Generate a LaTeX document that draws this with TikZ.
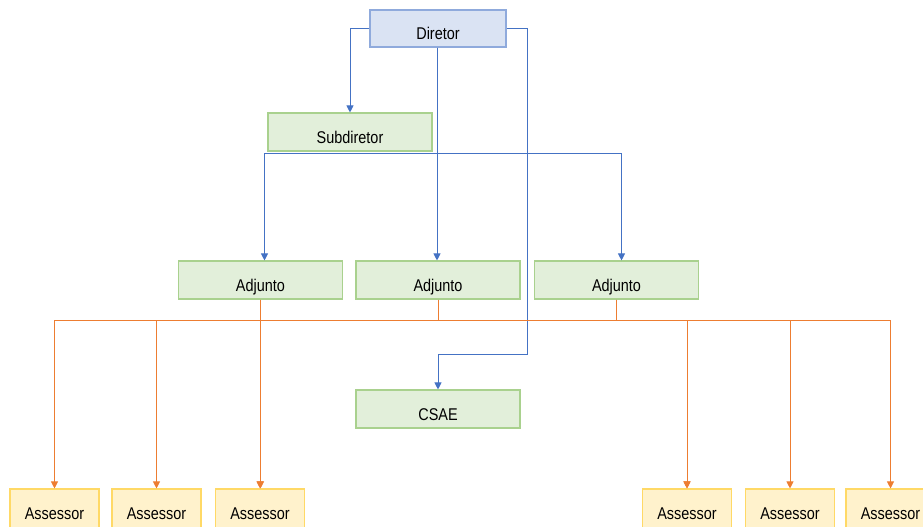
\documentclass[tikz,border=0pt]{standalone}
\usepackage{fontspec}
\setmainfont{Liberation Sans}[FakeStretch=0.85]
\usepackage{tikz}
\usetikzlibrary{shapes,arrows,arrows.meta,positioning}
\definecolor{dirfill}{HTML}{DAE3F3}
\definecolor{dirdraw}{HTML}{8FAADC}
\definecolor{grnfill}{HTML}{E2EFDA}
\definecolor{grndraw}{HTML}{A9D18E}
\definecolor{ylwfill}{HTML}{FFF2CC}
\definecolor{ylwdraw}{HTML}{FFD966}
\definecolor{bluln}{HTML}{4472C4}
\definecolor{orgln}{HTML}{ED7D31}
\tikzstyle{box} = [rectangle, inner sep = 0pt, line width = 1.1pt, text height = 22pt, text depth = 0pt, font = \fontsize{17}{19}\selectfont]
\tikzstyle{dnode} = [box, draw = dirdraw, fill = dirfill, minimum width = 136pt, minimum height = 37pt]
\tikzstyle{gnode} = [box, draw = grndraw, fill = grnfill, minimum width = 164pt, minimum height = 38pt]
\tikzstyle{anode} = [box, draw = ylwdraw, fill = ylwfill, minimum width = 89pt, minimum height = 39pt]
\tikzstyle{bline} = [draw = bluln, line width = 0.9pt, -{Triangle[width = 7pt, length = 7pt]}]
\tikzstyle{oline} = [draw = orgln, line width = 0.9pt, -{Triangle[width = 7pt, length = 7pt]}]

\begin{document}
\begin{tikzpicture}[x = 1pt, y = -1pt]
			\useasboundingbox (0, 0) rectangle (923, 527);
			\clip (0, 0) rectangle (923, 527);
			\node [dnode] (dir) at (438, 28.5) {Diretor};
			\node [gnode] (sub) at (350, 132) {Subdiretor};
			\node [gnode] (adj1) at (260.5, 280) {Adjunto};
			\node [gnode] (adj2) at (438, 280) {Adjunto};
			\node [gnode] (adj3) at (616.5, 280) {Adjunto};
			\node [gnode] (csae) at (438, 409) {CSAE};
			\node [anode] (ass1) at (54.5, 508.5) {Assessor};
			\node [anode] (ass2) at (156.5, 508.5) {Assessor};
			\node [anode] (ass3) at (260, 508.5) {Assessor};
			\node [anode] (ass4) at (687, 508.5) {Assessor};
			\node [anode] (ass5) at (790, 508.5) {Assessor};
			\node [anode] (ass6) at (890.5, 508.5) {Assessor};
			\coordinate (hub) at (437, 153);
			\coordinate (turn) at (527, 354);
			
			\path [bline] (dir.west) -| (sub.north);
			\path [bline] (dir.south -| hub) -- (hub) -| ([xshift = 4pt]adj1.north);
			\path [bline] (dir.south -| hub) -- (adj2.north -| hub);
			\path [bline] (hub) -| ([xshift = 5pt]adj3.north);
			\path [bline] (dir.east) -| (turn) -| (csae.north);
			
			\path [oline] (adj1.south) -- ++(0, 21) -| (ass1.north);
			\path [oline] (adj1.south) -- ++(0, 21) -| (ass2.north);
			\path [oline] (adj1.south) -- (adj1.south |- ass3.north);
			\path [oline] (adj2.south) -- ++(0, 21) -| (ass3.north);
			\path [oline] (adj2.south) -- ++(0, 21) -| (ass4.north);
			\path [oline] (adj3.south) -- ++(0, 21) -| (ass4.north);
			\path [oline] (adj3.south) -- ++(0, 21) -| (ass5.north);
			\path [oline] (adj3.south) -- ++(0, 21) -| (ass6.north);
		\end{tikzpicture}
\end{document}
